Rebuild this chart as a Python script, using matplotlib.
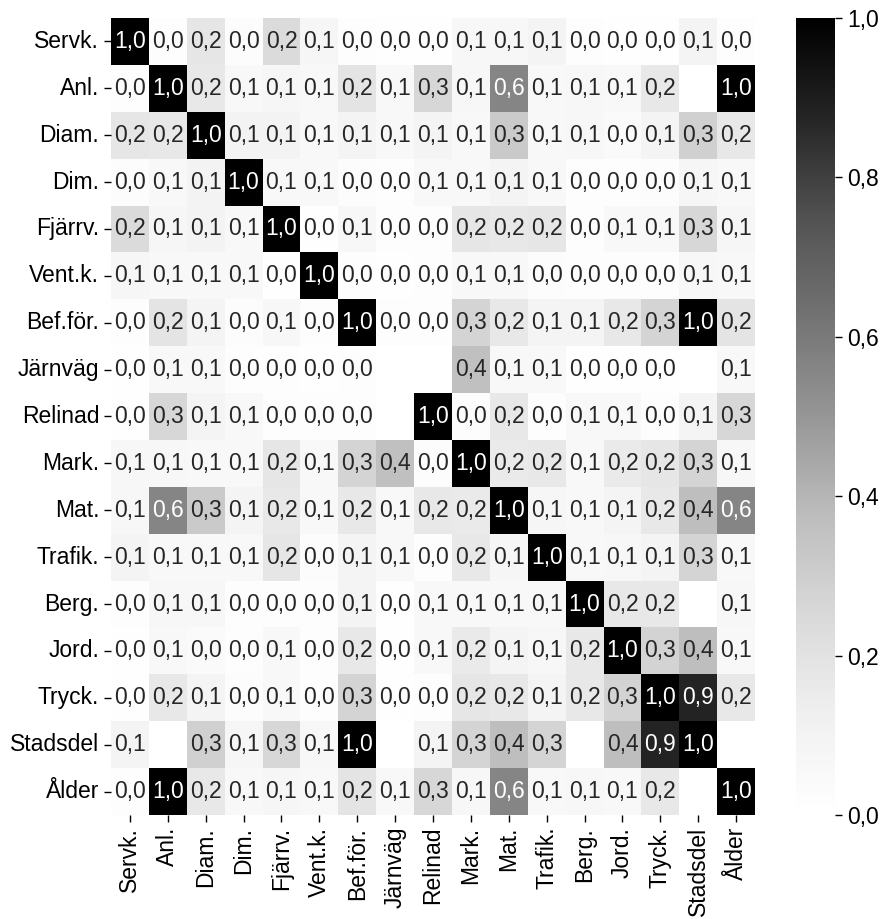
import numpy as np
import matplotlib
matplotlib.use("Agg")
import matplotlib.pyplot as plt
import seaborn as sns

plt.rcParams['font.family'] = ['Liberation Sans', 'DejaVu Sans']

labels = ["Servk.", "Anl.", "Diam.", "Dim.", "Fjärrv.", "Vent.k.", "Bef.för.", "Järnväg",
          "Relinad", "Mark.", "Mat.", "Trafik.", "Berg.", "Jord.", "Tryck.", "Stadsdel", "Ålder"]

nan = np.nan
corr = np.array([
    [1.00, 0.02, 0.18, 0.03, 0.24, 0.08, 0.02, 0.01, 0.01, 0.07, 0.07, 0.09, 0.02, 0.01, 0.01, 0.09, 0.02],
    [0.02, 1.00, 0.17, 0.06, 0.08, 0.06, 0.19, 0.06, 0.26, 0.07, 0.56, 0.06, 0.07, 0.06, 0.17, nan, 1.00],
    [0.18, 0.17, 1.00, 0.10, 0.10, 0.06, 0.09, 0.06, 0.09, 0.06, 0.32, 0.06, 0.07, 0.04, 0.09, 0.29, 0.17],
    [0.03, 0.06, 0.10, 1.00, 0.06, 0.06, 0.03, 0.02, 0.06, 0.06, 0.09, 0.06, 0.02, 0.02, 0.03, 0.08, 0.06],
    [0.24, 0.08, 0.10, 0.06, 1.00, 0.01, 0.07, 0.02, 0.02, 0.18, 0.17, 0.18, 0.02, 0.06, 0.06, 0.26, 0.08],
    [0.08, 0.06, 0.06, 0.06, 0.01, 1.00, 0.02, 0.01, 0.02, 0.06, 0.06, 0.03, 0.02, 0.02, 0.02, 0.07, 0.06],
    [0.02, 0.19, 0.09, 0.03, 0.07, 0.02, 1.00, 0.02, 0.02, 0.27, 0.17, 0.09, 0.09, 0.17, 0.27, 1.00, 0.19],
    [0.01, 0.06, 0.06, 0.02, 0.02, 0.01, 0.02, nan, nan, 0.36, 0.06, 0.06, 0.01, 0.01, 0.01, nan, 0.06],
    [0.01, 0.26, 0.09, 0.06, 0.02, 0.02, 0.02, nan, 1.00, 0.03, 0.17, 0.02, 0.06, 0.06, 0.02, 0.09, 0.26],
    [0.07, 0.07, 0.06, 0.06, 0.18, 0.06, 0.27, 0.36, 0.03, 1.00, 0.16, 0.17, 0.06, 0.16, 0.18, 0.27, 0.07],
    [0.07, 0.56, 0.32, 0.09, 0.17, 0.06, 0.17, 0.06, 0.17, 0.16, 1.00, 0.08, 0.06, 0.09, 0.17, 0.37, 0.56],
    [0.09, 0.06, 0.06, 0.06, 0.18, 0.03, 0.09, 0.06, 0.02, 0.17, 0.08, 1.00, 0.06, 0.07, 0.09, 0.27, 0.06],
    [0.02, 0.07, 0.07, 0.02, 0.02, 0.02, 0.09, 0.01, 0.06, 0.06, 0.06, 0.06, 1.00, 0.17, 0.17, nan, 0.07],
    [0.01, 0.06, 0.04, 0.02, 0.06, 0.02, 0.17, 0.01, 0.06, 0.16, 0.09, 0.07, 0.17, 1.00, 0.28, 0.37, 0.06],
    [0.01, 0.17, 0.09, 0.03, 0.06, 0.02, 0.27, 0.01, 0.02, 0.18, 0.17, 0.09, 0.17, 0.28, 1.00, 0.88, 0.17],
    [0.09, nan, 0.29, 0.08, 0.26, 0.07, 1.00, nan, 0.09, 0.27, 0.37, 0.27, nan, 0.37, 0.88, 1.00, nan],
    [0.02, 1.00, 0.17, 0.06, 0.08, 0.06, 0.19, 0.06, 0.26, 0.07, 0.56, 0.06, 0.07, 0.06, 0.17, nan, 1.00],
])

cbar_ticks = [0.0, 0.2, 0.4, 0.6, 0.8, 1.0]

# Swedish decimal comma
annot = np.array([["" if np.isnan(v) else f"{v:.1f}".replace(".", ",") for v in row] for row in corr])

fig = plt.figure(figsize=(8.86, 9.19), dpi=100)
ax = fig.add_axes([0.1253, 0.1132, 0.7269, 0.8672])
cax = fig.add_axes([0.8984, 0.1132, 0.044, 0.8672])

sns.heatmap(corr, ax=ax, cbar_ax=cax, cmap="Greys", vmin=0, vmax=1,
            annot=annot, fmt="", annot_kws={"fontsize": 16.5},
            xticklabels=labels, yticklabels=labels)

ax.tick_params(axis="both", labelsize=16.5, length=5, width=1, colors="black")
plt.setp(ax.get_xticklabels(), rotation=90)
plt.setp(ax.get_yticklabels(), rotation=0)

cax.tick_params(labelsize=16.5, length=5, width=1)
cax.set_yticks(cbar_ticks)
cax.set_yticklabels([f"{t:.1f}".replace(".", ",") for t in cbar_ticks])

fig.savefig("out.png", dpi=100)
